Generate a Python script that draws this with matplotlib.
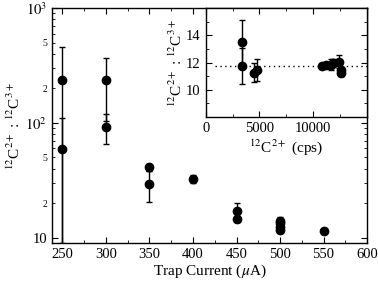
import numpy as np
import matplotlib
matplotlib.use('Agg')
import matplotlib.pyplot as plt
from matplotlib.ticker import FixedLocator, FixedFormatter, MultipleLocator

plt.rcParams['font.family'] = 'Liberation Serif'
plt.rcParams['mathtext.fontset'] = 'stix'
plt.rcParams['font.size'] = 10
plt.rcParams['axes.linewidth'] = 1.0

# main panel data: trap current vs ratio
current = [250, 250, 300, 300, 350, 350, 400, 450, 450, 500, 500, 500, 500, 550]
ratio = [235, 59, 235, 92, 41, 29.3, 32.4, 17.0, 14.6, 14.1, 13.4, 12.5, 11.6, 11.5]
ratio_err = [226, 51, 131, 27, 3, 8.8, 2.5, 2.9, 1.0, 1.0, 1.0, 0.8, 0.6, 0.5]

# inset data: 12C2+ count rate vs ratio
cps = [3370, 3370, 4500, 4800, 10850, 11150, 11620, 11870, 12390, 12550, 12600]
ratio_in = [13.53, 11.76, 11.27, 11.45, 11.78, 11.80, 11.85, 11.95, 12.07, 11.45, 11.25]
ratio_in_err = [1.57, 1.33, 0.72, 0.78, 0.2, 0.2, 0.4, 0.3, 0.5, 0.25, 0.2]
mean_ratio = 11.78

fig = plt.figure(figsize=(3.78, 2.87), dpi=100)
ax = fig.add_axes([0.1376, 0.1533, 0.8334, 0.8187])
ax.errorbar(current, ratio, yerr=ratio_err, fmt='o', color='black', ms=6,
            elinewidth=1.0, capsize=2.5, capthick=1.0)
ax.set_yscale('log')
ax.set_xlim(238, 600)
ax.set_ylim(9.0, 1000)
ax.set_xticks([250, 300, 350, 400, 450, 500, 550, 600])
ax.xaxis.set_minor_locator(MultipleLocator(25))
ax.yaxis.set_major_locator(FixedLocator([10, 100, 1000]))
ax.yaxis.set_major_formatter(FixedFormatter(['10', '$10^2$', '$10^3$']))
minor = [m * d for d in (10, 100) for m in range(2, 10)]
ax.yaxis.set_minor_locator(FixedLocator(minor))
ax.yaxis.set_minor_formatter(FixedFormatter(['2' if m == 2 else '5' if m == 5 else ''
                                             for d in (10, 100) for m in range(2, 10)]))
ax.tick_params(which='both', direction='in', top=True, right=True)
ax.tick_params(which='major', length=4, labelsize=10.5)
ax.tick_params(which='minor', length=2, labelsize=7)
ax.set_xlabel('Trap Current ($\\mu$A)', fontsize=11, labelpad=1)
ax.set_ylabel('$^{12}$C$^{2+}$ : $^{12}$C$^{3+}$', fontsize=11, labelpad=2)

# inset
ins = fig.add_axes([0.544, 0.592, 0.427, 0.380])
ins.errorbar(cps, ratio_in, yerr=ratio_in_err, fmt='o', color='black', ms=6,
             elinewidth=1.0, capsize=2.5, capthick=1.0)
ins.plot([900, 15000], [mean_ratio, mean_ratio], color='black', lw=1.0,
         linestyle=(0, (1, 2.5)))
ins.set_xlim(0, 15000)
ins.set_ylim(8, 16)
ins.set_xticks([0, 5000, 10000])
ins.xaxis.set_minor_locator(FixedLocator([2500, 7500, 12500, 15000]))
ins.set_yticks([10, 12, 14])
ins.yaxis.set_minor_locator(MultipleLocator(1))
ins.tick_params(which='both', direction='in', top=True, right=True)
ins.tick_params(which='major', length=4, labelsize=10.5)
ins.tick_params(which='minor', length=2)
ins.set_xlabel('$^{12}$C$^{2+}$ (cps)', fontsize=11, labelpad=2)
ins.set_ylabel('$^{12}$C$^{2+}$ : $^{12}$C$^{3+}$', fontsize=11, labelpad=1)

plt.savefig('out.png', dpi=100)
